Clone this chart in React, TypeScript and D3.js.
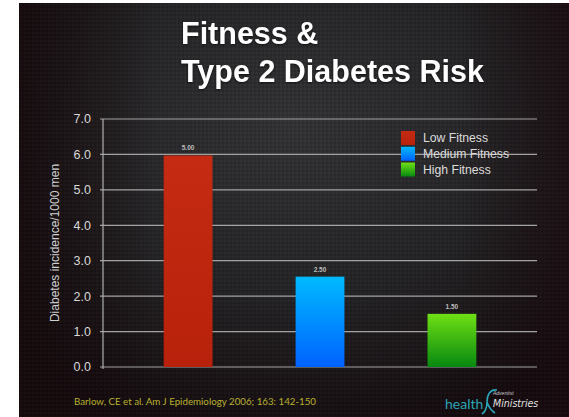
import React from "react"
import * as d3 from "d3"

// data
const categories = ["Low Fitness", "Medium Fitness", "High Fitness"]
const values = [5.97, 2.55, 1.5]
const valueLabels = ["5.00", "2.50", "1.50"]
const yTicks = [0, 1, 2, 3, 4, 5, 6, 7]
const titleLines = ["Fitness &", "Type 2 Diabetes Risk"]
const yLabel = "Diabetes incidence/1000 men"
const source = "Barlow, CE et al. Am J Epidemiology 2006; 163: 142-150"

const gradients = [
  ["#c52b12", "#b8210b"],
  ["#00baff", "#0062ff"],
  ["#6fe014", "#078810"],
]

export default function App() {
  const width = 569
  const height = 417
  const plot = { left: 103, right: 537, top: 119, bottom: 367 }

  const x = d3
    .scaleBand<string>()
    .domain(categories)
    .range([plot.left, plot.right])
    .paddingInner(0.63)
    .paddingOuter(0.46)

  const y = d3.scaleLinear().domain([0, 7]).range([plot.bottom, plot.top])

  const legendY = d3
    .scalePoint<string>()
    .domain(categories)
    .range([138, 169.5])

  return (
    <svg
      width={width}
      height={height}
      style={{ position: "absolute", left: 0, top: 0 }}
      fontFamily="'Liberation Sans', Arial, sans-serif"
    >
      <defs>
        <radialGradient id="bg" cx="0.5" cy="0.3" r="0.75">
          <stop offset="0" stopColor="#323234" />
          <stop offset="0.55" stopColor="#232224" />
          <stop offset="1" stopColor="#140b0e" />
        </radialGradient>
        <linearGradient id="shadeL" x1="0" x2="1" y1="0" y2="0">
          <stop offset="0" stopColor="#150a0c" stopOpacity="0.85" />
          <stop offset="0.25" stopColor="#150a0c" stopOpacity="0" />
          <stop offset="0.8" stopColor="#150a0c" stopOpacity="0" />
          <stop offset="1" stopColor="#1a0a10" stopOpacity="0.6" />
        </linearGradient>
        <pattern id="tex" width="4" height="4" patternUnits="userSpaceOnUse">
          <rect width="2" height="2" fill="#ffffff" opacity="0.025" />
          <rect x="2" y="2" width="2" height="2" fill="#000000" opacity="0.08" />
        </pattern>
        {gradients.map((g, i) => (
          <linearGradient key={i} id={`bar${i}`} x1="0" x2="0" y1="0" y2="1">
            <stop offset="0" stopColor={g[0]} />
            <stop offset="1" stopColor={g[1]} />
          </linearGradient>
        ))}
      </defs>

      <rect width={width} height={height} fill="#ffffff" />
      <rect x={19} y={3} width={width - 19} height={height - 3} fill="url(#bg)" />
      <rect x={19} y={3} width={width - 19} height={height - 3} fill="url(#shadeL)" />
      <rect x={19} y={3} width={width - 19} height={height - 3} fill="url(#tex)" />

      {titleLines.map((t, i) => (
        <text
          key={t}
          x={181}
          y={44 + i * 38}
          fill="#ffffff"
          fontSize={30.5}
          fontWeight="bold"
          style={{ filter: "drop-shadow(0 1px 1px rgba(0,0,0,0.6))" }}
        >
          {t}
        </text>
      ))}

      {/* grid + ticks */}
      {yTicks.map(t => (
        <g key={t}>
          <line
            x1={plot.left - 3}
            x2={plot.right}
            y1={y(t)}
            y2={y(t)}
            stroke="#a3a3a3"
            strokeWidth={1.2}
          />
          <text
            x={91}
            y={y(t)}
            dy="0.35em"
            textAnchor="end"
            fill="#d8d8d8"
            fontSize={12.5}
          >
            {t.toFixed(1)}
          </text>
        </g>
      ))}
      <line
        x1={plot.left}
        x2={plot.left}
        y1={plot.top}
        y2={plot.bottom + 2}
        stroke="#b0b0b0"
        strokeWidth={1.2}
      />

      <text
        transform={`translate(55, ${(plot.top + plot.bottom) / 2}) rotate(-90)`}
        textAnchor="middle"
        dy="0.35em"
        fill="#d0d0d0"
        fontSize={12}
      >
        {yLabel}
      </text>

      {categories.map((c, i) => (
        <g key={c}>
          <rect
            x={x(c)}
            y={y(values[i])}
            width={x.bandwidth()}
            height={plot.bottom - y(values[i])}
            fill={`url(#bar${i})`}
          />
          <text
            x={(x(c) ?? 0) + x.bandwidth() / 2}
            y={y(values[i]) - 5}
            textAnchor="middle"
            fill="#bdbdbd"
            fontSize={6.5}
            fontWeight="bold"
          >
            {valueLabels[i]}
          </text>
        </g>
      ))}

      {/* legend */}
      {categories.map((c, i) => (
        <g key={c}>
          <rect
            x={401}
            y={(legendY(c) ?? 0) - 7}
            width={14}
            height={14}
            fill={`url(#bar${i})`}
          />
          <text
            x={423}
            y={legendY(c)}
            dy="0.35em"
            fill="#dcdcdc"
            fontSize={12.2}
          >
            {c}
          </text>
        </g>
      ))}

      <text
        x={74}
        y={405}
        fill="#b9b12e"
        fontSize={10}
        fontFamily="Lato, 'Open Sans', sans-serif"
        textLength={242}
        lengthAdjust="spacingAndGlyphs"
      >
        {source}
      </text>

      {/* logo */}
      <text x={445} y={409} fill="#2aa4b6" fontSize={14} fontFamily="Lato, sans-serif">
        health
      </text>
      <path
        d="M497,390 C490,389 487,395 487,402 C487,408 485,412 482,414 M487,402 C489,408 492,411 495,413"
        fill="none"
        stroke="#2aa4b6"
        strokeWidth={1.6}
      />
      <text
        x={493}
        y={395}
        fill="#c8c8c8"
        fontSize={5}
        fontStyle="italic"
      >
        Adventist
      </text>
      <text
        x={493}
        y={407}
        fill="#e0e0e0"
        fontSize={10.5}
        fontStyle="italic"
        fontFamily="'DejaVu Sans Condensed', sans-serif"
      >
        Ministries
      </text>
    </svg>
  )
}
